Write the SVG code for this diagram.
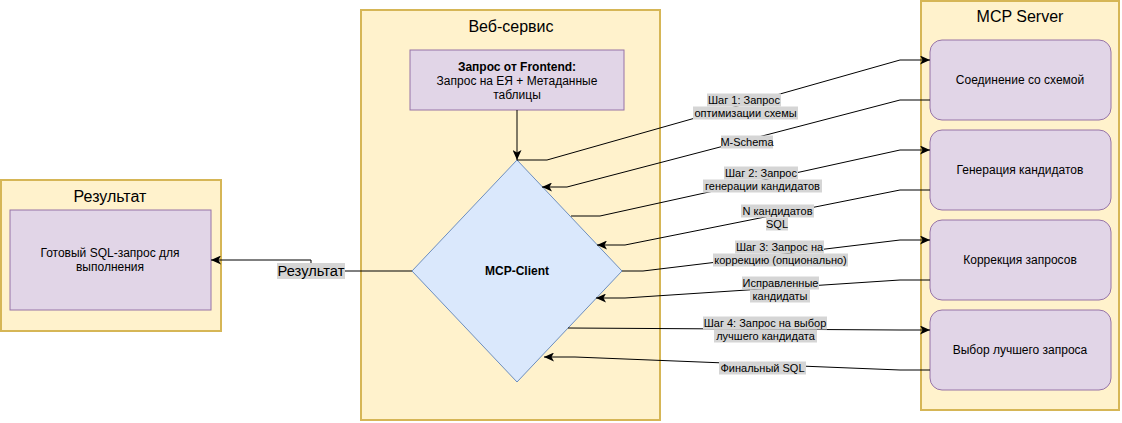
<svg xmlns="http://www.w3.org/2000/svg" width="1122" height="423" viewBox="0 0 1122 423">
<defs>
<style>
.cont{fill:#fff2cc;stroke:#d6b656;stroke-width:2}
.box{fill:#e1d5e7;stroke:#9673a6;stroke-width:1}
.dia{fill:#dae8fc;stroke:#6c8ebf;stroke-width:1}
.t{font-family:"Liberation Sans",Arial,sans-serif;fill:#000;text-anchor:middle;dominant-baseline:central}
.title{font-size:16px}
.n{font-size:12px}
.lbl{font-size:11px}
.bg{fill:#d5d5d5}
.edge{fill:none;stroke:#000;stroke-width:1}
.arr{marker-end:url(#ah)}
</style>
<marker id="ah" markerUnits="userSpaceOnUse" markerWidth="10" markerHeight="9" refX="10" refY="4.5" orient="auto">
<path d="M0,0 L10,4.5 L0,9 L2.5,4.5 Z" fill="#000"/>
</marker>
</defs>
<rect width="1122" height="423" fill="#fff"/>

<g id="web-service">
<rect class="cont" x="361" y="10" width="299" height="410"/>
<text class="t title" x="511" y="26">Веб-сервис</text>
</g>
<g id="result-container">
<rect class="cont" x="1" y="180" width="220" height="151"/>
<text class="t title" x="110" y="196">Результат</text>
</g>
<g id="mcp-server">
<rect class="cont" x="921" y="1" width="198" height="409"/>
<text class="t title" x="1020" y="16">MCP Server</text>
</g>

<g id="frontend">
<rect class="box" x="410" y="50" width="214" height="60"/>
<text class="t n" x="517" y="67" font-weight="bold">Запрос от Frontend:</text>
<text class="t n" x="517" y="81">Запрос на ЕЯ + Метаданные</text>
<text class="t n" x="517" y="95">таблицы</text>
</g>
<g id="result-box">
<rect class="box" x="10" y="210" width="201" height="100"/>
<text class="t n" x="110" y="253">Готовый SQL-запрос для</text>
<text class="t n" x="110" y="267">выполнения</text>
</g>
<g id="mcp-client">
<polygon class="dia" points="517,160 622,271 517,382 412,271"/>
<text class="t n" x="517" y="271" font-weight="bold">MCP-Client</text>
</g>
<g id="schema-link">
<rect class="box" x="930" y="40" width="181" height="80" rx="12"/>
<text class="t n" x="1020" y="80">Соединение со схемой</text>
</g>
<g id="candidate-gen">
<rect class="box" x="930" y="130" width="181" height="80" rx="12"/>
<text class="t n" x="1020" y="170">Генерация кандидатов</text>
</g>
<g id="query-correction">
<rect class="box" x="930" y="220" width="181" height="80" rx="12"/>
<text class="t n" x="1020" y="260">Коррекция запросов</text>
</g>
<g id="best-select">
<rect class="box" x="930" y="310" width="181" height="80" rx="12"/>
<text class="t n" x="1020" y="350">Выбор лучшего запроса</text>
</g>

<g id="connectors">
<path class="edge arr" d="M517,110 L517,160"/>
<path class="edge arr" d="M517,160 L547,160 L900,60 L930,60"/>
<path class="edge arr" d="M930,100 L900,100 L567,187 L542,187"/>
<path class="edge arr" d="M571,216 L600,216 L900,150 L930,150"/>
<path class="edge arr" d="M930,190 L900,190 L625,245 L597,245"/>
<path class="edge arr" d="M622,271 L643,271 L900,240 L930,240"/>
<path class="edge arr" d="M930,280 L900,280 L625,298 L596,298"/>
<path class="edge arr" d="M568,328 L900,330 L930,330"/>
<path class="edge arr" d="M930,370 L900,370 L575,357 L544,357"/>
<path class="edge arr" d="M412,271 L311,271 L311,260 L211,260"/>

<rect class="bg" x="707" y="93.5" width="74" height="13"/>
<rect class="bg" x="693" y="106.5" width="105" height="13"/>
<text class="t lbl" x="744" y="100">Шаг 1: Запрос</text>
<text class="t lbl" x="745.5" y="113">оптимизации схемы</text>

<rect class="bg" x="721" y="135.5" width="52" height="13"/>
<text class="t lbl" x="747" y="142">M-Schema</text>

<rect class="bg" x="724" y="166.5" width="74" height="13"/>
<rect class="bg" x="703" y="179.5" width="119" height="13"/>
<text class="t lbl" x="761" y="173">Шаг 2: Запрос</text>
<text class="t lbl" x="762.5" y="186">генерации кандидатов</text>

<rect class="bg" x="741" y="204.5" width="73" height="13"/>
<rect class="bg" x="766" y="217.5" width="22" height="13"/>
<text class="t lbl" x="777.5" y="211">N кандидатов</text>
<text class="t lbl" x="777" y="224">SQL</text>

<rect class="bg" x="735" y="240.5" width="89" height="13"/>
<rect class="bg" x="713" y="253.5" width="135" height="13"/>
<text class="t lbl" x="779.5" y="247">Шаг 3: Запрос на</text>
<text class="t lbl" x="780.5" y="260">коррекцию (опционально)</text>

<rect class="bg" x="742" y="276.5" width="77" height="13"/>
<rect class="bg" x="750" y="289.5" width="60" height="13"/>
<text class="t lbl" x="780.5" y="283">Исправленные</text>
<text class="t lbl" x="780" y="296">кандидаты</text>

<rect class="bg" x="703" y="316.5" width="124" height="13"/>
<rect class="bg" x="714" y="329.5" width="103" height="13"/>
<text class="t lbl" x="765" y="323">Шаг 4: Запрос на выбор</text>
<text class="t lbl" x="765.5" y="336">лучшего кандидата</text>

<rect class="bg" x="719" y="361.5" width="87" height="13"/>
<text class="t lbl" x="762.5" y="368">Финальный SQL</text>

<rect class="bg" x="277" y="263" width="68" height="16"/>
<text class="t" x="311" y="271" font-size="14.7px">Результат</text>
</g>
</svg>
